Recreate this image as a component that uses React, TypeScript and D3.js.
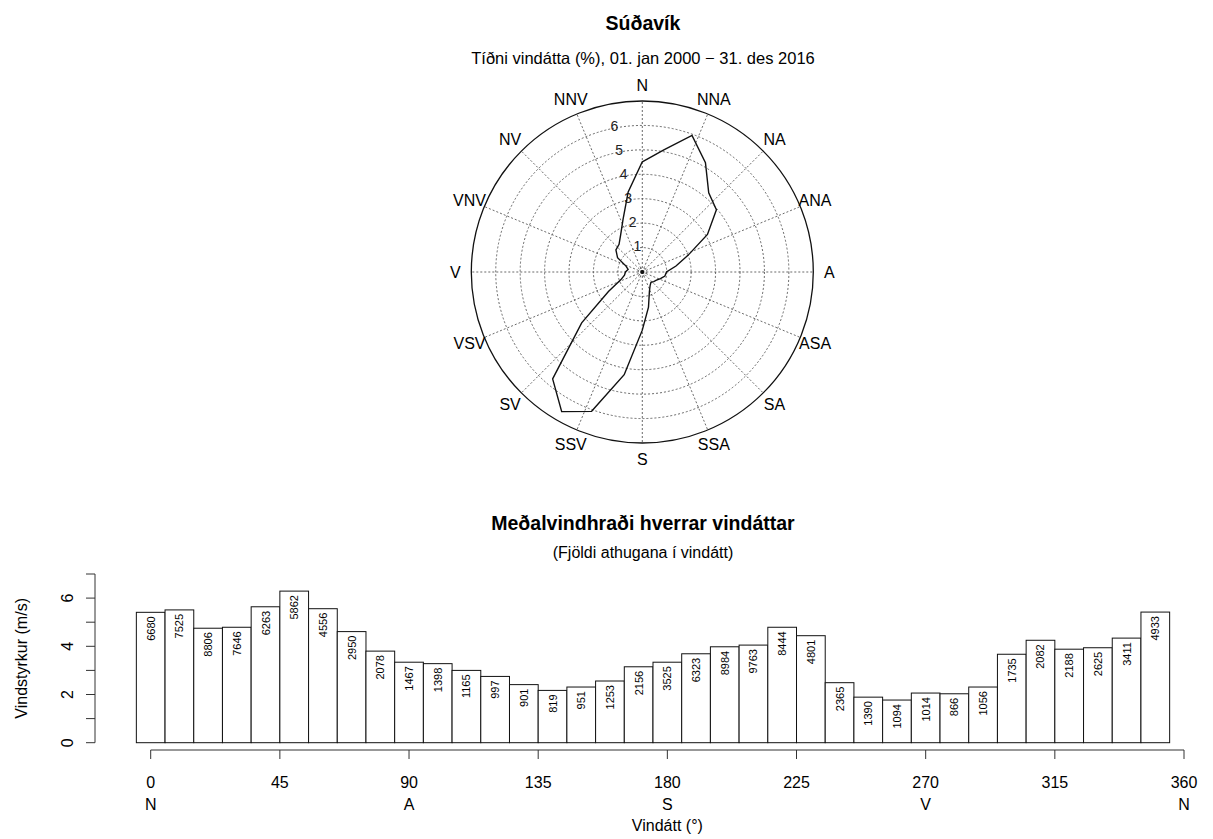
import React from "react";
import * as d3 from "d3";

const directions = [0, 10, 20, 30, 40, 50, 60, 70, 80, 90, 100, 110, 120, 130, 140, 150, 160, 170, 180, 190, 200, 210, 220, 230, 240, 250, 260, 270, 280, 290, 300, 310, 320, 330, 340, 350];
const frequency = [4.51, 5.08, 5.95, 5.17, 4.23, 3.96, 3.08, 1.99, 1.40, 0.99, 0.94, 0.79, 0.67, 0.61, 0.55, 0.64, 0.85, 1.46, 2.38, 4.27, 6.07, 6.60, 5.71, 3.24, 1.60, 0.94, 0.74, 0.69, 0.59, 0.71, 1.17, 1.41, 1.48, 1.77, 2.30, 3.33];
const meanSpeed = [5.41, 5.51, 4.75, 4.79, 5.64, 6.29, 5.56, 4.61, 3.80, 3.34, 3.28, 3.00, 2.75, 2.41, 2.17, 2.31, 2.56, 3.15, 3.34, 3.69, 3.98, 4.05, 4.79, 4.44, 2.49, 1.89, 1.77, 2.06, 2.03, 2.31, 3.67, 4.25, 3.88, 3.94, 4.34, 5.42];
const counts = [6680, 7525, 8806, 7646, 6263, 5862, 4556, 2950, 2078, 1467, 1398, 1165, 997, 901, 819, 951, 1253, 2156, 3525, 6323, 8984, 9763, 8444, 4801, 2365, 1390, 1094, 1014, 866, 1056, 1735, 2082, 2188, 2625, 3411, 4933];
const compassLabels = ["N", "NNA", "NA", "ANA", "A", "ASA", "SA", "SSA", "S", "SSV", "SV", "VSV", "V", "VNV", "NV", "NNV"];
const compassAngles = [0, 22.5, 45, 67.5, 90, 112.5, 135, 157.5, 180, 202.5, 225, 247.5, 270, 292.5, 315, 337.5];
const ringValues = [1, 2, 3, 4, 5, 6];
const xTicks = [0, 45, 90, 135, 180, 225, 270, 315, 360];
const xTickNames = ["N", "", "A", "", "S", "", "V", "", "N"];
const yTicks = [0, 1, 2, 3, 4, 5, 6, 7];
const yTickLabels = [0, 2, 4, 6];

const FONT = "'Liberation Sans', Arial, Helvetica, sans-serif";

export default function App() {
  const W = 1213, H = 839;
  // polar
  const cx = 642.3, cy = 272;
  const rScale = d3.scaleLinear().domain([0, 7]).range([0, 171]);
  const pt = (deg: number, r: number): [number, number] => {
    const a = (deg * Math.PI) / 180;
    return [cx + r * Math.sin(a), cy - r * Math.cos(a)];
  };
  const polyPts = directions.map((d, i) => pt(d, rScale(frequency[i])));
  const line = d3.line().curve(d3.curveLinearClosed);
  const polyPath = line(polyPts) || "";

  // bars
  const x = d3.scaleLinear().domain([0, 360]).range([150.7, 1184]);
  const y = d3.scaleLinear().domain([0, 7]).range([742.7, 574]);
  const halfW = 5;
  const grid = { stroke: "#444", strokeWidth: 0.8, strokeDasharray: "2,2", fill: "none" };

  return (
    <svg width={W} height={H} style={{ position: "absolute", left: 0, top: 0, background: "#fff" }} fontFamily={FONT}>
      <rect x={0} y={0} width={W} height={H} fill="#fff" />
      <text x={643} y={30} textAnchor="middle" fontSize={19.5} fontWeight="bold">Súðavík</text>
      <text x={643} y={64} textAnchor="middle" fontSize={16.5}>Tíðni vindátta (%), 01. jan 2000 − 31. des 2016</text>

      {ringValues.map((v) => (
        <circle key={"ring" + v} cx={cx} cy={cy} r={rScale(v)} {...grid} />
      ))}
      <circle cx={cx} cy={cy} r={4} {...grid} />
      {compassAngles.map((a) => {
        const [x2, y2] = pt(a, rScale(7));
        return <line key={"sp" + a} x1={cx} y1={cy} x2={x2} y2={y2} {...grid} />;
      })}
      <circle cx={cx} cy={cy} r={rScale(7)} fill="none" stroke="#111" strokeWidth={1.3} />
      {ringValues.map((v) => {
        const [tx, ty] = pt(-10.8, rScale(v) + 2);
        return (
          <text key={"rl" + v} x={tx} y={ty} textAnchor="middle" dominantBaseline="central" fontSize={14} fill="#222">{v}</text>
        );
      })}
      <path d={polyPath} fill="none" stroke="#111" strokeWidth={1.4} strokeLinejoin="miter" />
      <circle cx={cx} cy={cy} r={2} fill="#111" />
      {compassLabels.map((lab, i) => {
        const [tx, ty] = pt(compassAngles[i], 187);
        return (
          <text key={"cl" + lab} x={tx} y={ty} textAnchor="middle" dominantBaseline="central" fontSize={16}>{lab}</text>
        );
      })}

      <text x={643} y={530} textAnchor="middle" fontSize={19.5} fontWeight="bold">Meðalvindhraði hverrar vindáttar</text>
      <text x={643} y={558} textAnchor="middle" fontSize={16}>(Fjöldi athugana í vindátt)</text>

      {directions.map((d, i) => (
        <rect key={"b" + d} x={x(d - halfW)} y={y(meanSpeed[i])} width={x(d + halfW) - x(d - halfW)} height={y(0) - y(meanSpeed[i])} fill="#fff" stroke="#111" strokeWidth={1} />
      ))}
      {directions.map((d, i) => (
        <text key={"c" + d} transform={`translate(${x(d)},${y(meanSpeed[i]) + 4}) rotate(-90)`} textAnchor="end" dominantBaseline="central" fontSize={11}>{counts[i]}</text>
      ))}

      {/* x axis */}
      <line x1={x(0)} x2={x(360)} y1={750} y2={750} stroke="#333" strokeWidth={1} />
      {xTicks.map((t, i) => (
        <g key={"xt" + t}>
          <line x1={x(t)} x2={x(t)} y1={750} y2={759} stroke="#333" strokeWidth={1} />
          <text x={x(t)} y={788} textAnchor="middle" fontSize={16}>{t}</text>
          {xTickNames[i] && <text x={x(t)} y={810} textAnchor="middle" fontSize={16}>{xTickNames[i]}</text>}
        </g>
      ))}
      <text x={x(180)} y={831} textAnchor="middle" fontSize={16}>Vindátt (°)</text>

      {/* y axis */}
      <line x1={95} x2={95} y1={y(0)} y2={y(7)} stroke="#333" strokeWidth={1} />
      {yTicks.map((t) => (
        <line key={"yt" + t} x1={86} x2={95} y1={y(t)} y2={y(t)} stroke="#333" strokeWidth={1} />
      ))}
      {yTickLabels.map((t) => (
        <text key={"yl" + t} transform={`translate(73,${y(t)}) rotate(-90)`} textAnchor="middle" fontSize={16}>{t}</text>
      ))}
      <text transform={`translate(27,${(y(0) + y(7)) / 2}) rotate(-90)`} textAnchor="middle" fontSize={16}>Vindstyrkur (m/s)</text>
    </svg>
  );
}
